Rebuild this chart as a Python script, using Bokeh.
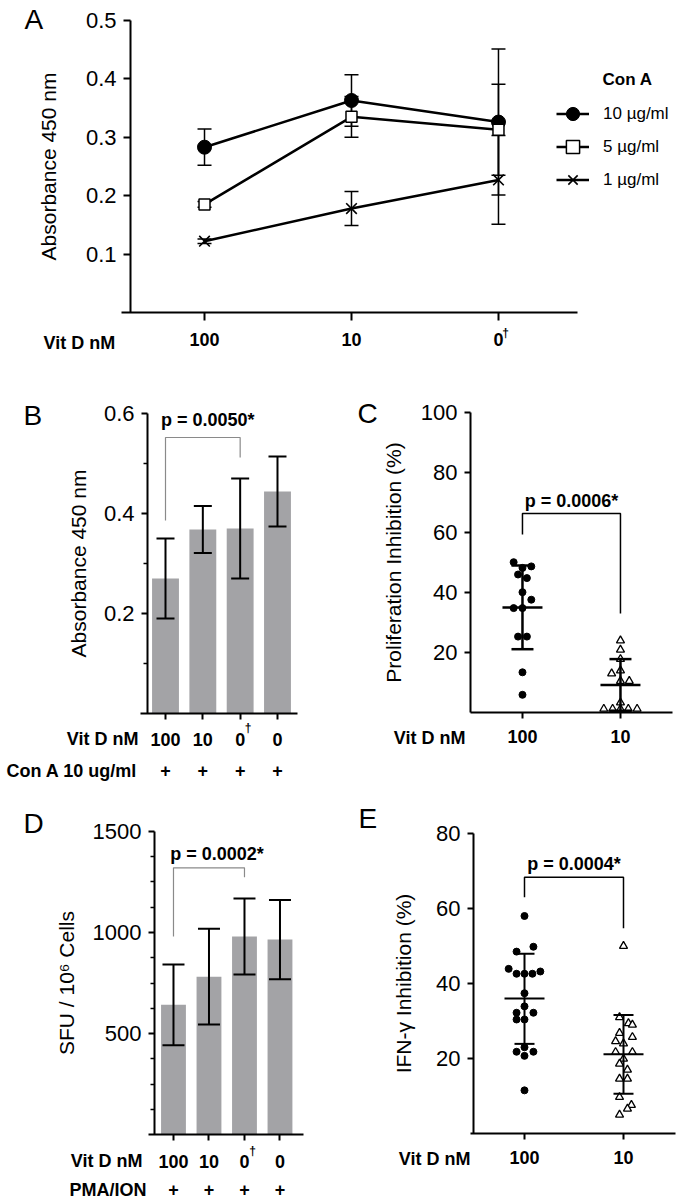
from bokeh.plotting import figure
from bokeh.models import (Range1d, FixedTicker, Whisker, TeeHead, ColumnDataSource,
                          Label, Legend, LegendItem)
from bokeh.layouts import column, row
from bokeh.embed import file_html
from bokeh.resources import INLINE

FONT = "Liberation Sans"
BAR_GRAY = "#a3a3a6"
BRACKET_GRAY = "#8a8a8a"

# ---------------- data ----------------
# Panel A : Con A dose series vs Vit D
a_vitd = ["100", "10", "0"]
a_pos = [1, 2, 3]
a_con10 = [0.283, 0.363, 0.326]
a_con10_sd = [0.031, 0.044, 0.125]
a_con5 = [0.185, 0.335, 0.313]
a_con5_sd = [0.005, 0.035, 0.078]
a_con1 = [0.122, 0.178, 0.227]
a_con1_sd = [0.004, 0.029, 0.076]

# Panel B : absorbance bars
b_vitd = ["100", "10", "0", "0"]
b_pos = [1, 2, 3, 4]
b_mean = [0.270, 0.368, 0.370, 0.444]
b_sd = [0.080, 0.047, 0.100, 0.070]
b_bracket = [0.386, 0.552, 0.512]   # left leg end, top, right leg end

# Panel C : proliferation inhibition (%)
c_vitd = ["100", "10"]
c_100 = [50.1, 48.7, 48.2, 46.0, 44.8, 40.1, 37.6, 34.8, 34.8, 25.3, 25.3, 13.4, 5.9]
c_100_jit = [-0.09, 0.09, 0.0, -0.045, 0.045, 0.0, 0.09, -0.09, 0.0, -0.045, 0.045, 0.0, 0.0]
c_10 = [24.0, 20.9, 17.8, 14.0, 13.0, 10.5, 10.5, 3.3, 1.2, 1.2, 1.2, 1.2, 1.2]
c_10_jit = [0.0, 0.0, 0.0, 0.0, -0.09, 0.0, 0.09, 0.0, -0.17, -0.08, 0.0, 0.08, 0.17]
c_mean = [35.0, 9.2]
c_sd_low = [21.1, 0.6]
c_sd_high = [49.0, 17.8]
c_bracket = [59.3, 66.3, 33.0]

# Panel D : SFU bars
d_vitd = ["100", "10", "0", "0"]
d_mean = [642, 781, 980, 965]
d_sd = [200, 237, 188, 196]
d_bracket = [980, 1320, 1274]

# Panel E : IFN-gamma inhibition (%)
e_vitd = ["100", "10"]
e_100 = [58.0, 49.8, 48.5, 43.9, 42.6, 42.6, 42.6, 43.2, 37.4, 33.9, 32.2, 32.2, 30.4, 30.4,
         23.0, 21.8, 21.8, 20.7, 11.5]
e_100_jit = [0.0, 0.09, -0.08, -0.16, -0.08, 0.0, 0.08, 0.16, 0.0, 0.0, -0.08, 0.09, -0.08, 0.0,
             0.0, -0.08, 0.09, 0.0, 0.0]
e_10 = [50.0, 31.0, 29.4, 29.0, 26.8, 25.7, 24.6, 24.0, 21.7, 21.7, 19.9, 18.6, 17.0, 14.6, 14.6,
        9.7, 7.6, 6.6, 5.0]
e_10_jit = [0.0, -0.04, 0.05, 0.09, -0.04, 0.09, -0.08, 0.0, -0.08, 0.09, 0.0, -0.04, 0.04, -0.04,
            0.04, -0.04, 0.08, 0.04, -0.04]
e_mean = [36.0, 21.1]
e_sd_low = [23.9, 10.6]
e_sd_high = [47.9, 31.6]
e_bracket = [63.0, 68.3, 54.7]


# ---------------- helpers ----------------
class Panel:
    """A figure whose frame covers its whole canvas; axes are pinned with fixed_location."""

    def __init__(self, ox, oy, w, h, xr, yr, y_axis_at, x_bounds, y_bounds):
        self.ox, self.oy, self.w, self.h = ox, oy, w, h
        p = figure(width=w, height=h, x_range=Range1d(*xr), y_range=Range1d(*yr),
                   output_backend="svg", toolbar_location=None,
                   min_border=0, min_border_left=0, min_border_right=0,
                   min_border_top=0, min_border_bottom=0)
        p.title.visible = False
        p.outline_line_color = None
        p.xgrid.visible = False
        p.ygrid.visible = False
        p.background_fill_color = "white"
        p.border_fill_color = "white"
        for ax in (p.xaxis[0], p.yaxis[0]):
            ax.axis_line_width = 2
            ax.axis_line_color = "black"
            ax.major_tick_line_width = 2
            ax.major_tick_line_color = "black"
            ax.minor_tick_line_width = 1.5
            ax.minor_tick_line_color = "black"
            ax.major_tick_in = 0
            ax.minor_tick_in = 0
            ax.major_label_text_color = "black"
            ax.major_label_text_font = FONT
            ax.axis_label_text_font = FONT
            ax.axis_label_text_font_style = "normal"
            ax.axis_label_text_color = "black"
        p.yaxis[0].fixed_location = y_axis_at
        p.yaxis[0].bounds = y_bounds
        p.xaxis[0].fixed_location = 0
        p.xaxis[0].bounds = x_bounds
        self.p = p

    def sx(self, px):
        return px - self.ox

    def sy(self, py):
        return self.oy + self.h - py

    def style_y(self, ticks, minor, label, standoff, tick_out=6):
        ax = self.p.yaxis[0]
        ax.ticker = FixedTicker(ticks=ticks, minor_ticks=minor)
        ax.major_tick_out = tick_out
        ax.minor_tick_out = 4
        ax.major_label_text_font_size = "22px"
        ax.major_label_standoff = 7
        ax.axis_label = label
        ax.axis_label_text_font_size = "21px"
        ax.axis_label_standoff = standoff

    def style_x(self, ticks, labels, standoff, tick_out=6):
        ax = self.p.xaxis[0]
        ax.ticker = FixedTicker(ticks=ticks, minor_ticks=[])
        ax.major_label_overrides = {t: l for t, l in zip(ticks, labels)}
        ax.major_tick_out = tick_out
        ax.minor_tick_out = 0
        ax.major_label_text_font_size = "18px"
        ax.major_label_text_font_style = "bold"
        ax.major_label_standoff = standoff

    def text(self, text, px, py, size="18px", style="bold", align="left"):
        """text at a pixel position of the page"""
        self.p.add_layout(Label(x=self.sx(px), y=self.sy(py), x_units="screen", y_units="screen",
                                text=text, text_font=FONT, text_font_size=size,
                                text_font_style=style, text_align=align,
                                text_baseline="middle", text_color="black"))

    def text_at(self, text, x, py, size="18px", style="bold", align="center", x_offset=0):
        """text at a data x and a pixel row of the page"""
        self.p.add_layout(Label(x=x, y=self.sy(py), x_units="data", y_units="screen",
                                text=text, text_font=FONT, text_font_size=size,
                                text_font_style=style, text_align=align,
                                text_baseline="middle", text_color="black", x_offset=x_offset))

    def whisker(self, xs, lows, highs, head, lw, level="overlay"):
        src = ColumnDataSource(dict(x=xs, lower=lows, upper=highs))
        w = Whisker(base="x", lower="lower", upper="upper", source=src,
                    line_color="black", line_width=lw, level=level,
                    upper_head=TeeHead(size=head, line_width=lw, line_color="black"),
                    lower_head=TeeHead(size=head, line_width=lw, line_color="black"))
        self.p.add_layout(w)

    def bracket(self, x_left, x_right, br, color, lw):
        self.p.line([x_left, x_left, x_right, x_right], [br[0], br[1], br[1], br[2]],
                    line_color=color, line_width=lw)


# ---------------- Panel A ----------------
A = Panel(0, 0, 677, 365, (-0.388, 4.218), (-0.0908, 0.5342),
          0.4966, (0.435, 3.537), (0, 0.5))
pa = A.p
A.style_y([0.1, 0.2, 0.3, 0.4, 0.5], [], "Absorbance 450 nm", 23, tick_out=7)
A.style_x(a_pos, a_vitd, 13, tick_out=8)

for vals, sd in ((a_con10, a_con10_sd), (a_con5, a_con5_sd), (a_con1, a_con1_sd)):
    A.whisker(a_pos, [v - s for v, s in zip(vals, sd)], [v + s for v, s in zip(vals, sd)],
              14, 1.5, level="underlay")
l10 = pa.line(a_pos, a_con10, line_width=2.5, line_color="black")
l5 = pa.line(a_pos, a_con5, line_width=2.5, line_color="black")
l1 = pa.line(a_pos, a_con1, line_width=2.5, line_color="black")
s10 = pa.scatter(a_pos, a_con10, marker="circle", size=14, fill_color="black", line_color="black")
s5 = pa.scatter(a_pos, a_con5, marker="square", size=11, fill_color="white", line_color="black",
                line_width=1.5)
s1 = pa.scatter(a_pos, a_con1, marker="x", size=15, line_color="black", line_width=1.6)

legend = Legend(items=[LegendItem(label="10 µg/ml", renderers=[l10, s10]),
                       LegendItem(label="5 µg/ml", renderers=[l5, s5]),
                       LegendItem(label="1 µg/ml", renderers=[l1, s1])],
                location=(A.sx(556), A.sy(196)), orientation="vertical", padding=0, margin=0,
                spacing=0, glyph_width=33, glyph_height=33, label_height=33, label_standoff=14,
                border_line_color=None, background_fill_alpha=0,
                label_text_font=FONT, label_text_font_size="17px", label_text_color="black")
pa.add_layout(legend)
A.text("Con A", 602, 79, size="17px")
A.text("A", 24, 19, size="28px", style="normal")
A.text("Vit D nM", 43, 342)
A.text_at("†", 3, 332, size="12px", x_offset=7)

# ---------------- Panel B ----------------
B = Panel(0, 365, 330, 430, (-3.420, 5.420), (-0.164, 0.696),
          0.518, (0.33, 4.536), (0, 0.6))
pb = B.p
B.style_y([0.2, 0.4, 0.6], [0.1, 0.3, 0.5], "Absorbance 450 nm", 11)
B.style_x(b_pos, b_vitd, 13)
pb.vbar(x=b_pos, top=b_mean, width=0.72, fill_color=BAR_GRAY, line_color=None)
B.whisker(b_pos, [m - s for m, s in zip(b_mean, b_sd)], [m + s for m, s in zip(b_mean, b_sd)],
          18, 2)
B.bracket(1, 3, b_bracket, BRACKET_GRAY, 1.2)
B.text_at("p = 0.0050*", 2, 419, x_offset=5)
B.text("B", 23, 415, size="28px", style="normal")
B.text("Vit D nM", 138, 738, align="right")
B.text_at("†", 3, 727, size="12px", x_offset=8)
B.text("Con A 10 ug/ml", 137, 770, align="right")
for xp in b_pos:
    B.text_at("+", xp, 770)

# ---------------- Panel C ----------------
C = Panel(330, 365, 347, 430, (-0.959, 2.582), (-27.667, 115.667),
          0.4694, (0.4694, 2.531), (0, 100))
pc = C.p
C.style_y([20, 40, 60, 80, 100], [], "Proliferation Inhibition (%)", 13)
C.style_x([1, 2], c_vitd, 12)
pc.scatter([1 + j for j in c_100_jit], c_100, marker="circle", size=7, fill_color="black",
           line_color="black")
pc.scatter([2 + j for j in c_10_jit], c_10, marker="triangle", size=8, fill_color="white",
           line_color="black", line_width=1.3)
pc.scatter([1, 2], c_mean, marker="dash", size=40, line_color="black", line_width=2.5)
C.whisker([1, 2], c_sd_low, c_sd_high, 22, 2.5)
C.bracket(1, 2, c_bracket, "black", 1.5)
C.text_at("p = 0.0006*", 1.5, 500)
C.text("C", 357, 413, size="28px", style="normal")
C.text("Vit D nM", 465, 737, align="right")

# ---------------- Panel D ----------------
D = Panel(0, 795, 330, 405, (-3.873, 5.423), (-326.7, 1678.2),
          0.4648, (0.296, 4.662), (0, 1500))
pd_ = D.p
D.style_y([500, 1000, 1500], [125, 250, 375, 625, 750, 875, 1125, 1250, 1375],
          "SFU / 10⁶ Cells", 12)
D.style_x(b_pos, d_vitd, 14)
pd_.vbar(x=b_pos, top=d_mean, width=0.70, fill_color=BAR_GRAY, line_color=None)
D.whisker(b_pos, [m - s for m, s in zip(d_mean, d_sd)], [m + s for m, s in zip(d_mean, d_sd)],
          22, 2)
D.bracket(1, 3, d_bracket, BRACKET_GRAY, 1.2)
D.text_at("p = 0.0002*", 2, 853, x_offset=8)
D.text("D", 23, 823, size="28px", style="normal")
D.text("Vit D nM", 142, 1160, align="right")
D.text_at("†", 3, 1150, size="12px", x_offset=8)
D.text("PMA/ION", 146, 1189, align="right")
for xp in b_pos:
    D.text_at("+", xp, 1189)

# ---------------- Panel E ----------------
E = Panel(330, 795, 347, 405, (-0.9596, 2.5455), (-17.867, 90.133),
          0.4848, (0.4545, 2.525), (0, 80))
pe = E.p
E.style_y([20, 40, 60, 80], [], "IFN-γ Inhibition (%)", 18)
E.style_x([1, 2], e_vitd, 12)
pe.scatter([1 + j for j in e_100_jit], e_100, marker="circle", size=7, fill_color="black",
           line_color="black")
pe.scatter([2 + j for j in e_10_jit], e_10, marker="triangle", size=8, fill_color="white",
           line_color="black", line_width=1.3)
pe.scatter([1, 2], e_mean, marker="dash", size=40, line_color="black", line_width=2)
E.whisker([1, 2], e_sd_low, e_sd_high, 20, 2)
E.bracket(1, 2, e_bracket, "black", 1.5)
E.text_at("p = 0.0004*", 1.5, 863)
E.text("E", 358, 818, size="28px", style="normal")
E.text("Vit D nM", 470, 1158, align="right")

layout = column(pa, row(pb, pc, spacing=0), row(pd_, pe, spacing=0), spacing=0)

open("out.html", "w").write(file_html(layout, INLINE))
